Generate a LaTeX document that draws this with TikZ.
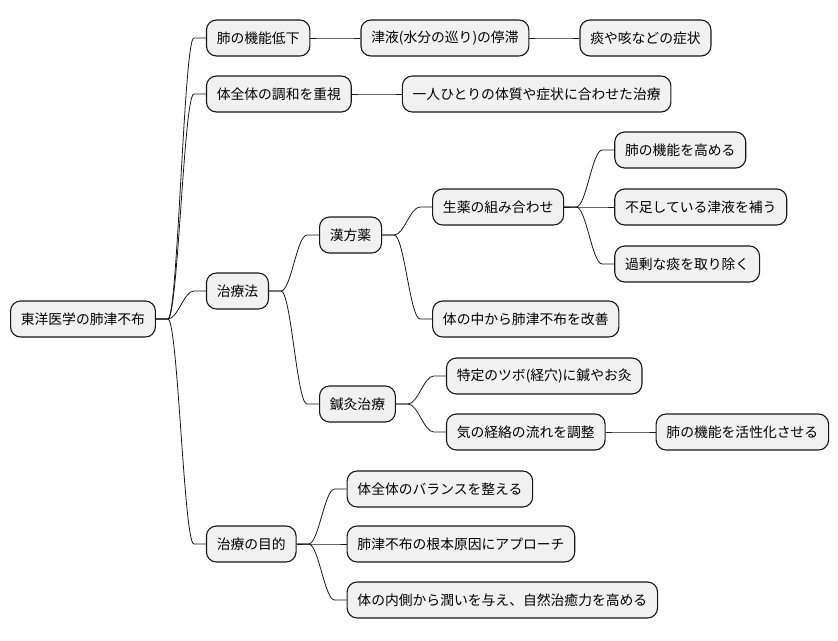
\documentclass[tikz,border=0pt]{standalone}
\usepackage{fontspec}
\setmainfont{Noto Sans CJK JP}
\usepackage{xcolor}
\definecolor{cFill}{HTML}{F1F1F1}
\definecolor{cLine}{HTML}{181818}
\usepackage{tikz}
\usetikzlibrary{positioning}
\tikzset{
  node-topic/.style={draw=cLine,line width=1.1pt,fill=cFill,rounded corners=10pt,
    minimum height=36pt,inner xsep=10.3pt,inner ysep=2pt,anchor=west,
    font=\fontsize{13.8pt}{16pt}\selectfont},
  % 枝: 親の右端から短く出て, S字で子の左端へ
  branch/.style={draw=cLine,line width=0.8pt,to path={-- ++(12pt,0)
    .. controls +(10pt,0) and +(-10pt,0) .. ([xshift=-12pt]\tikztotarget.west)
    -- (\tikztotarget.west)}},
}

\begin{document}
\begin{tikzpicture}[node distance=50pt]
  \useasboundingbox (0,0) rectangle (838pt,-640pt);
  \node[node-topic] (root) at (10pt,-319pt) {東洋医学の肺津不布};
  \node[node-topic,right=of root,yshift=281pt] (lung) {肺の機能低下};
  \node[node-topic,right=of lung] (fluid) {津液(水分の巡り)の停滞};
  \node[node-topic,right=of fluid] (phlegm) {痰や咳などの症状};
  \node[node-topic,right=of root,yshift=225pt] (whole) {体全体の調和を重視};
  \node[node-topic,right=of whole] (custom) {一人ひとりの体質や症状に合わせた治療};
  \node[node-topic,right=of root,yshift=28pt] (cure) {治療法};
  \node[node-topic,right=of cure,yshift=56pt] (kampo) {漢方薬};
  \node[node-topic,right=of kampo,yshift=28pt] (herb) {生薬の組み合わせ};
  \node[node-topic,right=of herb,yshift=57pt] (boost) {肺の機能を高める};
  \node[node-topic,right=of herb] (supply) {不足している津液を補う};
  \node[node-topic,right=of herb,yshift=-57pt] (remove) {過剰な痰を取り除く};
  \node[node-topic,right=of kampo,yshift=-84pt] (inner) {体の中から肺津不布を改善};
  \node[node-topic,right=of cure,yshift=-113pt] (acu) {鍼灸治療};
  \node[node-topic,right=of acu,yshift=28pt] (tsubo) {特定のツボ(経穴)に鍼やお灸};
  \node[node-topic,right=of acu,yshift=-28pt] (meridian) {気の経絡の流れを調整};
  \node[node-topic,right=of meridian] (activate) {肺の機能を活性化させる};
  \node[node-topic,right=of root,yshift=-225pt] (goal) {治療の目的};
  \node[node-topic,right=of goal,yshift=55pt] (balance) {体全体のバランスを整える};
  \node[node-topic,right=of goal] (cause) {肺津不布の根本原因にアプローチ};
  \node[node-topic,right=of goal,yshift=-56pt] (moist) {体の内側から潤いを与え、自然治癒力を高める};
  \draw[branch] (root.east) to (lung);
  \draw[branch] (root.east) to (whole);
  \draw[branch] (root.east) to (cure);
  \draw[branch] (root.east) to (goal);
  \draw[branch] (lung.east) to (fluid);
  \draw[branch] (fluid.east) to (phlegm);
  \draw[branch] (whole.east) to (custom);
  \draw[branch] (cure.east) to (kampo);
  \draw[branch] (cure.east) to (acu);
  \draw[branch] (kampo.east) to (herb);
  \draw[branch] (kampo.east) to (inner);
  \draw[branch] (herb.east) to (boost);
  \draw[branch] (herb.east) to (supply);
  \draw[branch] (herb.east) to (remove);
  \draw[branch] (acu.east) to (tsubo);
  \draw[branch] (acu.east) to (meridian);
  \draw[branch] (meridian.east) to (activate);
  \draw[branch] (goal.east) to (balance);
  \draw[branch] (goal.east) to (cause);
  \draw[branch] (goal.east) to (moist);
\end{tikzpicture}
\end{document}
